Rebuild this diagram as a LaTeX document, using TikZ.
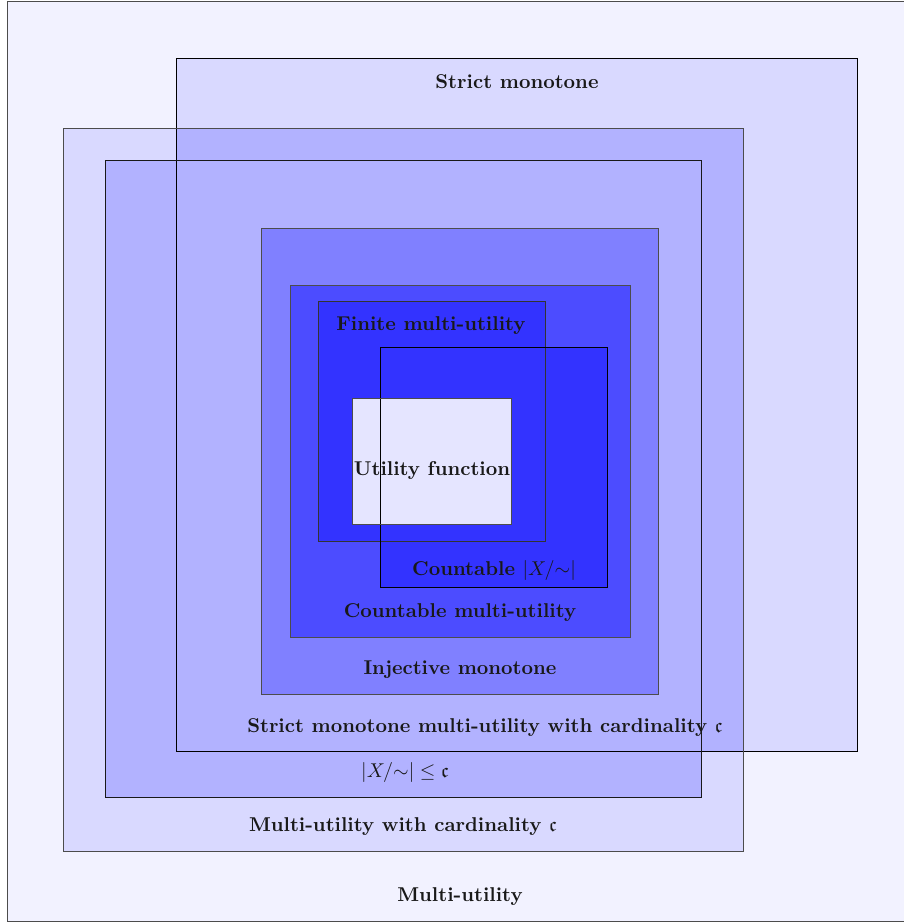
\documentclass[tikz,border=0pt]{standalone}
\usepackage{amssymb}
\begin{document}
\begin{tikzpicture}[x=0.5pt, y=-0.5pt,
    lbl/.style={font=\bfseries, text=black!90, inner sep=1pt},
    edge/.style={draw=black, line width=0.5pt},
    edgeg/.style={edge, draw=black!70},
]
    \useasboundingbox (0,0) rectangle (904,923);

    % Fills, from outside to inside
    \foreach \xa/\ya/\xb/\yb/\col in {
        7/1/904/921/blue!5,        % multi-utility
        176/58/857/751/blue!15,    % strict monotone
        63/128/743/851/blue!15,    % multi-utility with cardinality
        176/128/743/751/blue!30,   % both of them
        105/160/701/797/blue!30,   % |X/~| <= c
        261/228/658/694/blue!50,   % injective monotone
        290/285/630/637/blue!70,   % countable multi-utility
        318/301/545/541/blue!80,   % finite multi-utility
        380/347/607/587/blue!80,   % countable |X/~|
        352/398/511/524/blue!10} { % utility function
        \fill[\col] (\xa,\ya) rectangle (\xb,\yb);
    }

    % Borders on top of all fills
    \draw[edgeg] (7,1) rectangle (904,921);
    \draw[edge] (176,58) rectangle (857,751);
    \draw[edgeg] (63,128) rectangle (743,851);
    \draw[edge, draw=black!90] (105,160) rectangle (701,797);
    \draw[edgeg] (261,228) rectangle (658,694);
    \draw[edgeg] (290,285) rectangle (630,637);
    \draw[edge, draw=black!80] (318,301) rectangle (545,541);
    \draw[edge] (380,347) rectangle (607,587);
    \draw[edgeg] (352,398) rectangle (511,524);

    % Labels
    \node[lbl] (multi) at (460,897) {Multi-utility};
    \node[lbl] (strict) at (517,82) {Strict monotone};
    \node[lbl] (multic) at (403,827) {Multi-utility with cardinality $\mathfrak{c}$};
    \node[lbl] (strictc) at (485,728) {Strict monotone multi-utility with cardinality $\mathfrak{c}$};
    \node[lbl] (card) at (405,772) {$|X/{\sim}| \leq \mathfrak{c}$};
    \node[lbl] (inj) at (460,670) {Injective monotone};
    \node[lbl] (cntmulti) at (460,613) {Countable multi-utility};
    \node[lbl] (finite) at (431,326) {Finite multi-utility};
    \node[lbl] (cntx) at (494,570) {Countable $|X/{\sim}|$};
    \node[lbl] (util) at (432,470) {Utility function};
\end{tikzpicture}
\end{document}
